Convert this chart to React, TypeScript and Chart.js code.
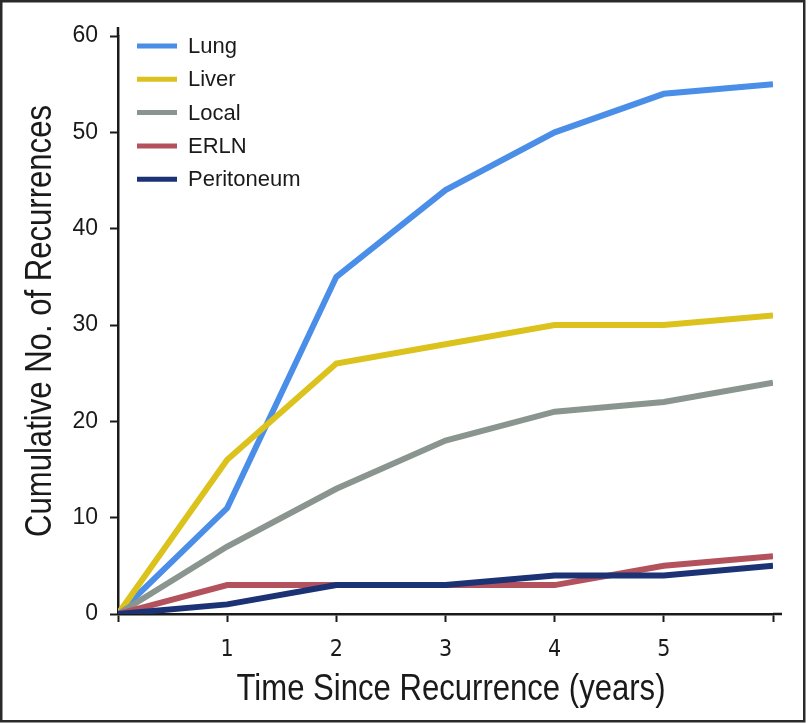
import React, { useEffect, useRef } from 'react';
import { Chart, registerables } from 'chart.js';

Chart.register(...registerables);

// ---- data ----
const years = [0, 1, 2, 3, 4, 5, 6];
const lung = [0, 11, 35, 44, 50, 54, 55];
const liver = [0, 16, 26, 28, 30, 30, 31];
const local = [0, 7, 13, 18, 21, 22, 24];
const erln = [0, 3, 3, 3, 3, 5, 6];
const peritoneum = [0, 1, 3, 3, 4, 4, 5];
const seriesNames = ['Lung', 'Liver', 'Local', 'ERLN', 'Peritoneum'];
const xTickLabels = ['', '1', '2', '3', '4', '5', ''];
const yTickValues = [0, 10, 20, 30, 40, 50, 60];
const xTitle = 'Time Since Recurrence (years)';
const yTitle = 'Cumulative No. of Recurrences';

const colors = ['#4a8ee8', '#dcc21c', '#8a9590', '#b3525d', '#1b3274'];
const drawOrder = [4, 3, 2, 1, 0];

const CONDENSED = "'DejaVu Sans Condensed', sans-serif";
const REGULAR = "'Liberation Sans', Arial, sans-serif";
const INK = '#1a1a1a';

const legendPlugin = {
  id: 'customLegend',
  afterDraw(chart: any) {
    const ctx = chart.ctx;
    ctx.save();
    chart.data.datasets.forEach((ds: any, i: number) => {
      const y = 46 + i * 33.3;
      ctx.strokeStyle = ds.borderColor;
      ctx.lineWidth = 5;
      ctx.lineCap = 'butt';
      ctx.beginPath();
      ctx.moveTo(137, y);
      ctx.lineTo(177, y);
      ctx.stroke();
      ctx.fillStyle = INK;
      ctx.font = `22px ${REGULAR}`;
      ctx.textAlign = 'left';
      ctx.textBaseline = 'middle';
      ctx.fillText(ds.label, 188, y + 1);
    });
    ctx.restore();
  },
};

// axis titles drawn as condensed text (horizontally compressed Liberation Sans)
function drawCondensed(ctx: any, text: string, cx: number, cy: number, targetWidth: number, rotate: boolean) {
  ctx.save();
  ctx.font = `36px ${REGULAR}`;
  ctx.fillStyle = INK;
  ctx.textAlign = 'center';
  ctx.textBaseline = 'middle';
  const w = ctx.measureText(text).width;
  const s = targetWidth / w;
  ctx.translate(cx, cy);
  if (rotate) ctx.rotate(-Math.PI / 2);
  ctx.scale(s, 1);
  ctx.fillText(text, 0, 0);
  ctx.restore();
}

const titlePlugin = {
  id: 'axisTitles',
  afterDraw(chart: any) {
    const ctx = chart.ctx;
    drawCondensed(ctx, xTitle, 451, 690, 429, false);
    drawCondensed(ctx, yTitle, 41, 321, 432, true);
  },
};

// small overshoot of the axis lines past the last ticks, as in the original
const axisExtPlugin = {
  id: 'axisExt',
  afterDraw(chart: any) {
    const { ctx, chartArea } = chart;
    ctx.save();
    ctx.strokeStyle = INK;
    ctx.lineWidth = 2.5;
    ctx.beginPath();
    ctx.moveTo(chartArea.left, chartArea.top);
    ctx.lineTo(chartArea.left, chartArea.top - 9);
    ctx.moveTo(chartArea.right, chartArea.bottom);
    ctx.lineTo(chartArea.right + 9, chartArea.bottom);
    ctx.stroke();
    ctx.restore();
  },
};

const framePlugin = {
  id: 'frame',
  afterDraw(chart: any) {
    const ctx = chart.ctx;
    ctx.save();
    ctx.strokeStyle = '#2a2a2a';
    ctx.lineWidth = 2.5;
    ctx.strokeRect(1.25, 1.25, 803, 720);
    ctx.restore();
  },
};

export default function App() {
  const ref = useRef<HTMLCanvasElement | null>(null);

  useEffect(() => {
    if (!ref.current) return;
    const series = [lung, liver, local, erln, peritoneum];
    const chart = new Chart(ref.current, {
      type: 'line',
      data: {
        datasets: series.map((vals, i) => ({
          label: seriesNames[i],
          data: years.map((x, j) => ({ x, y: vals[j] })),
          borderColor: colors[i],
          backgroundColor: colors[i],
          borderWidth: 6,
          pointRadius: 0,
          tension: 0,
          fill: false,
          order: drawOrder[i],
          borderJoinStyle: 'miter' as const,
          borderCapStyle: 'butt' as const,
        })),
      },
      options: {
        animation: false,
        responsive: false,
        events: [],
        layout: { padding: { top: 36, right: 35, bottom: 0, left: 0 } },
        plugins: {
          legend: { display: false },
          tooltip: { enabled: false },
        },
        scales: {
          x: {
            type: 'linear',
            min: 0,
            max: 6,
            afterFit(scale: any) {
              scale.height = 110;
            },
            afterBuildTicks(scale: any) {
              scale.ticks = years.map((v) => ({ value: v }));
            },
            ticks: {
              autoSkip: false,
              maxRotation: 0,
              padding: 14,
              color: INK,
              font: { family: CONDENSED, size: 23 },
              callback: (v: any) => xTickLabels[years.indexOf(Number(v))] ?? '',
            },
            grid: {
              display: true,
              drawOnChartArea: false,
              drawTicks: true,
              tickLength: 8,
              tickWidth: 2,
              tickColor: INK,
            },
            border: { display: true, color: INK, width: 2.5 },
            title: { display: false },
          },
          y: {
            type: 'linear',
            min: 0,
            max: 60,
            afterFit(scale: any) {
              scale.width = 118;
            },
            afterBuildTicks(scale: any) {
              scale.ticks = yTickValues.map((v) => ({ value: v }));
            },
            ticks: {
              padding: 12,
              color: INK,
              font: { family: REGULAR, size: 23 },
            },
            grid: {
              display: true,
              drawOnChartArea: false,
              drawTicks: true,
              tickLength: 8,
              tickWidth: 2,
              tickColor: INK,
            },
            border: { display: true, color: INK, width: 2.5 },
            title: { display: false },
          },
        },
      },
      plugins: [legendPlugin, titlePlugin, axisExtPlugin, framePlugin],
    });
    return () => chart.destroy();
  }, []);

  return (
    <div style={{ position: 'fixed', left: 0, top: 0, width: 808, height: 724, background: '#fff' }}>
      <canvas ref={ref} width={808} height={724} style={{ display: 'block' }} />
    </div>
  );
}
